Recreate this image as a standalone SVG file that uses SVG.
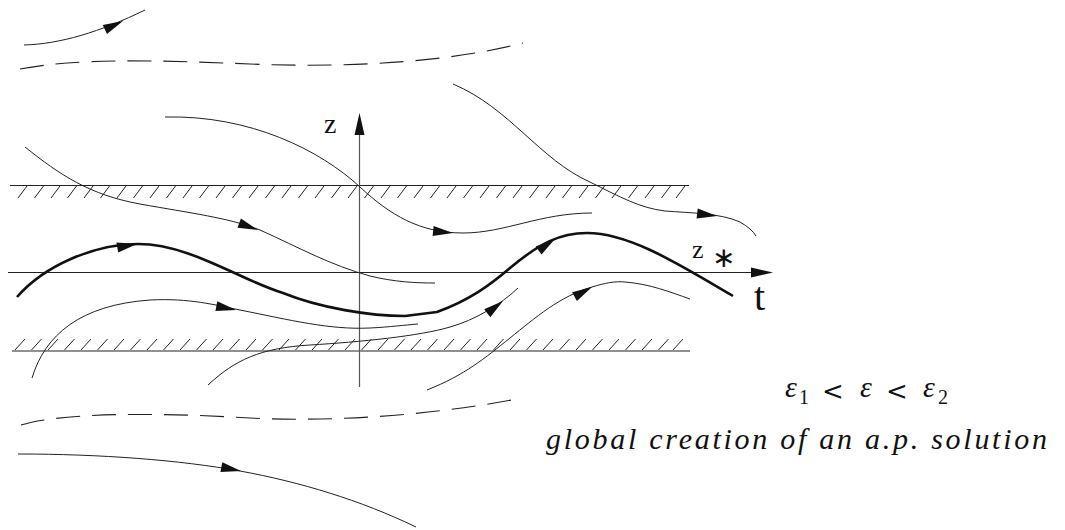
<svg xmlns="http://www.w3.org/2000/svg" xmlns:xlink="http://www.w3.org/1999/xlink" width="1065" height="530" viewBox="0 0 1065 530">
<style>
.thin{fill:none;stroke:#222;stroke-width:1}
.thick{fill:none;stroke:#111;stroke-width:2.6;stroke-linejoin:round}
.dash{fill:none;stroke:#222;stroke-width:1.1;stroke-dasharray:24 12}
.axis{fill:none;stroke:#222;stroke-width:1.2}
.vaxis{fill:none;stroke:#555;stroke-width:1.2}
.hatch{fill:none;stroke:#222;stroke-width:1}
.ah{fill:#111;stroke:none}
.lbl{fill:#111}
.it{font-style:italic;fill:#111}
.rel{font-family:"DejaVu Serif",serif;font-size:26px}
</style>
<defs>
<path id="ah" d="M0,0 L-20,-5 L-20,5 Z"/>
</defs>
<rect width="1065" height="530" fill="#fff"/>

<g id="hatch-upper">
<line class="axis" x1="10" y1="185.5" x2="689" y2="185.5"/>
<path class="hatch" d="M27,186l-9,12M43.5,186l-9,12M60,186l-9,12M76.5,186l-9,12M93,186l-9,12M109.5,186l-9,12M126,186l-9,12M142.5,186l-9,12M159,186l-9,12M175.5,186l-9,12M192,186l-9,12M208.5,186l-9,12M225,186l-9,12M241.5,186l-9,12M258,186l-9,12M274.5,186l-9,12M291,186l-9,12M307.5,186l-9,12M324,186l-9,12M340.5,186l-9,12M357,186l-9,12M373.5,186l-9,12M390,186l-9,12M406.5,186l-9,12M423,186l-9,12M439.5,186l-9,12M456,186l-9,12M472.5,186l-9,12M489,186l-9,12M505.5,186l-9,12M522,186l-9,12M538.5,186l-9,12M555,186l-9,12M571.5,186l-9,12M588,186l-9,12M604.5,186l-9,12M621,186l-9,12M637.5,186l-9,12M654,186l-9,12M670.5,186l-9,12M685,186l-9,12"/>
</g>

<g id="hatch-lower">
<line class="axis" x1="12" y1="351" x2="690" y2="351"/>
<path class="hatch" d="M15,350l10,-11M31.5,350l10,-11M48,350l10,-11M64.5,350l10,-11M81,350l10,-11M97.5,350l10,-11M114,350l10,-11M130.5,350l10,-11M147,350l10,-11M163.5,350l10,-11M180,350l10,-11M196.5,350l10,-11M213,350l10,-11M229.5,350l10,-11M246,350l10,-11M262.5,350l10,-11M279,350l10,-11M295.5,350l10,-11M312,350l10,-11M328.5,350l10,-11M345,350l10,-11M361.5,350l10,-11M378,350l10,-11M394.5,350l10,-11M411,350l10,-11M427.5,350l10,-11M444,350l10,-11M460.5,350l10,-11M477,350l10,-11M493.5,350l10,-11M510,350l10,-11M526.5,350l10,-11M543,350l10,-11M559.5,350l10,-11M576,350l10,-11M592.5,350l10,-11M609,350l10,-11M625.5,350l10,-11M642,350l10,-11M658.5,350l10,-11M673,350l10,-11"/>
</g>

<g id="axes" font-family="Liberation Serif, Times New Roman, serif">
<line class="axis" x1="8" y1="272.5" x2="755" y2="272.5"/>
<path class="ah" d="M773,272.5 L751,267.5 L751,277.5 Z"/>
<line class="vaxis" x1="359.5" y1="387" x2="359.5" y2="130"/>
<path class="ah" d="M359.5,113 L354.5,135 L364.5,135 Z"/>
<text class="lbl" x="324" y="133" font-size="28">z</text>
<text class="lbl" x="754" y="310" font-size="40">t</text>
<text class="lbl" x="692" y="258" font-size="26">z</text>
<text x="712" y="267" font-size="28" font-family="DejaVu Sans, sans-serif" fill="#111">∗</text>
</g>

<g id="connectors">
<path class="thin" d="M24,45 C60,44 100,32 145,10"/>
<use class="ah" xlink:href="#ah" transform="translate(123,21) rotate(-25)"/>

<path class="dash" d="M20,69 C80,58 150,60 250,64 C350,68 450,62 523,43"/>

<path class="thin" d="M165,117 C250,115 320,150 360,187 C390,215 420,233 463,233 C505,233 540,213 592,213"/>
<use class="ah" xlink:href="#ah" transform="translate(453,233) rotate(6)"/>

<path class="thin" d="M25,147 C60,175 90,195 140,204 C190,213 230,218 260,230 C300,248 330,265 370,276 C395,282 415,283 435,283"/>
<use class="ah" xlink:href="#ah" transform="translate(258,230) rotate(20)"/>

<path class="thin" d="M453,84 C510,108 540,160 590,182 C620,197 640,208 665,211 C690,213 720,213 740,222 Q752,229 756,236"/>
<use class="ah" xlink:href="#ah" transform="translate(717,216) rotate(7)"/>

<path class="thick" d="M17,297 C45,265 95,244 138,244 C190,244 240,280 283,293 C320,308 370,316 405,316 L437,312 C470,300 490,285 510,268 C540,243 560,233 587,233 C630,233 680,265 733,296"/>
<use class="ah" xlink:href="#ah" transform="translate(137,244) rotate(-10)"/>
<use class="ah" xlink:href="#ah" transform="translate(555,239) rotate(-35)"/>

<path class="thin" d="M32,378 C45,335 80,305 150,300 C190,298 215,305 240,310 C290,320 330,330 370,328 C390,327 405,325 418,324"/>
<use class="ah" xlink:href="#ah" transform="translate(236,310) rotate(11)"/>

<path class="thin" d="M208,385 C235,360 260,348 310,345 C360,342 420,336 450,327 C475,320 500,305 518,288"/>
<use class="ah" xlink:href="#ah" transform="translate(503,301) rotate(-38)"/>

<path class="thin" d="M427,390 C465,375 485,358 510,338 C535,318 560,296 592,287 C605,283 615,281 625,282 C650,284 670,292 690,299"/>
<use class="ah" xlink:href="#ah" transform="translate(592,287) rotate(-29)"/>

<path class="dash" d="M21,425 C60,413 150,412 250,418 C330,422 430,416 522,398"/>

<path class="thin" d="M18,454 C100,454 180,460 240,471 C300,482 360,500 416,527"/>
<use class="ah" xlink:href="#ah" transform="translate(241,471) rotate(11)"/>
</g>

<g id="caption" font-family="Liberation Serif, Times New Roman, serif">
<text class="lbl" font-size="30">
<tspan class="it" x="785" y="397">ε</tspan><tspan x="799" y="404" font-size="20">1</tspan><tspan class="rel" x="822" y="400">&lt;</tspan><tspan class="it" x="860" y="397">ε</tspan><tspan class="rel" x="886" y="400">&lt;</tspan><tspan class="it" x="923" y="397">ε</tspan><tspan x="938" y="404" font-size="20">2</tspan>
</text>
<text class="it" x="546" y="449" font-size="30" textLength="501" lengthAdjust="spacing">global creation of an a.p. solution</text>
</g>
</svg>
